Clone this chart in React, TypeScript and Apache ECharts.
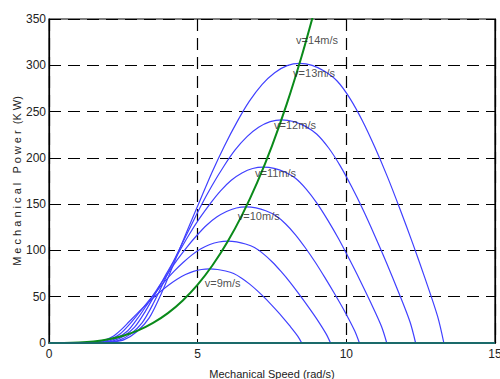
import React, { useEffect, useRef } from "react";
import * as echarts from "echarts";

// Mechanical speed (rad/s) and mechanical power (kW), per wind speed curve
const speedA = [1.08, 1.35, 1.62, 1.89, 2.16, 2.43, 2.70, 2.97, 3.24, 3.51, 3.78, 4.05, 4.32, 4.59, 4.86, 5.13, 5.40, 5.67, 5.94, 6.21, 6.48, 6.75, 7.02, 7.29, 7.56, 7.83, 8.10, 8.37, 8.50];
const powerA = [0, 0.24, 0.96, 3.2, 7.2, 14.4, 23.2, 32, 40.4, 48.8, 56.4, 63.2, 69.2, 74, 77.4, 79.4, 80, 79.4, 77.8, 75.0, 70.0, 63.6, 56.0, 47.6, 38.4, 28.8, 18.4, 7.2, 0];

const speedB = [1.20, 1.50, 1.80, 2.10, 2.40, 2.70, 3.01, 3.31, 3.61, 3.91, 4.21, 4.51, 4.81, 5.11, 5.41, 5.71, 6.01, 6.31, 6.61, 6.91, 7.21, 7.51, 7.81, 8.11, 8.41, 8.71, 9.02, 9.32, 9.47];
const powerB = [0, 0.33, 1.32, 4.4, 9.9, 19.8, 31.9, 44, 55.6, 67.1, 77.6, 86.9, 95.2, 101.8, 106.4, 109.1, 110, 109.2, 106.9, 103.1, 96.3, 87.5, 77, 65.5, 52.8, 39.6, 25.3, 9.9, 0];

const speedC = [1.33, 1.66, 1.99, 2.32, 2.65, 2.98, 3.32, 3.65, 3.98, 4.31, 4.64, 4.97, 5.30, 5.64, 5.97, 6.30, 6.63, 6.96, 7.29, 7.62, 7.96, 8.29, 8.62, 8.95, 9.28, 9.61, 9.95, 10.28, 10.44];
const powerC = [0, 0.44, 1.76, 5.9, 13.2, 26.5, 42.6, 58.8, 74.2, 89.7, 103.6, 116.1, 127.2, 136, 142.1, 145.8, 147, 146, 142.9, 137.7, 128.6, 116.9, 102.9, 87.5, 70.6, 52.9, 33.8, 13.2, 0];

const speedD = [1.44, 1.80, 2.16, 2.52, 2.88, 3.24, 3.61, 3.97, 4.33, 4.69, 5.05, 5.41, 5.77, 6.13, 6.49, 6.85, 7.21, 7.57, 7.93, 8.29, 8.65, 9.01, 9.37, 9.73, 10.09, 10.45, 10.82, 11.18, 11.36];
const powerD = [0, 0.57, 2.28, 7.6, 17.1, 34.2, 55.1, 76, 96, 115.9, 134, 150.1, 164.4, 175.8, 183.7, 188.5, 190, 188.7, 184.7, 178, 166.3, 151.1, 133, 113.1, 91.2, 68.4, 43.7, 18.1, 0];

const speedE = [1.57, 1.96, 2.35, 2.74, 3.13, 3.52, 3.92, 4.31, 4.70, 5.09, 5.48, 5.87, 6.26, 6.66, 7.05, 7.44, 7.83, 8.22, 8.61, 9.00, 9.40, 9.79, 10.18, 10.57, 10.96, 11.35, 11.75, 12.14, 12.33];
const powerE = [0, 0.72, 2.89, 9.6, 21.7, 43.4, 69.9, 96.4, 121.7, 147, 169.9, 190.4, 208.5, 222.9, 233, 239.1, 241, 239.3, 234.3, 225.8, 210.9, 191.6, 168.7, 143.4, 115.7, 86.8, 55.4, 22.9, 0];

const speedF = [1.69, 2.11, 2.53, 2.95, 3.37, 3.79, 4.22, 4.64, 5.06, 5.48, 5.90, 6.32, 6.74, 7.17, 7.59, 8.01, 8.43, 8.85, 9.27, 9.69, 10.12, 10.54, 10.96, 11.38, 11.80, 12.22, 12.65, 13.07, 13.28];
const powerF = [0, 0.91, 3.62, 12.1, 27.2, 54.4, 87.6, 120.8, 152.5, 184.2, 212.9, 238.6, 261.2, 279.4, 292, 299.6, 302, 299.9, 293.5, 283, 264.3, 240.1, 211.4, 179.7, 145, 108.7, 69.5, 28.7, 0];

// Optimal (maximum power point) curve
const optSpeed = [0, 0.5, 1, 1.5, 2, 2.5, 3, 3.5, 4, 4.5, 5, 5.5, 6, 6.5, 7, 7.5, 8, 8.5, 8.86];
const optPower = [0, 0.06, 0.51, 1.7, 4.04, 7.89, 13.6, 21.7, 32.3, 46.0, 63.1, 84.0, 109.1, 138.7, 173.2, 213.0, 258.6, 310.1, 351.2];

// Zero-power baseline
const baseSpeed = [0, 15];
const basePower = [0, 0];

// Curve labels and their anchor points (speed, power)
const labelTexts = ["v=14m/s", "v=13m/s", "v=12m/s", "v=11m/s", "v=10m/s", "v=9m/s"];
const labelSpeed = [8.31, 8.21, 7.57, 6.93, 6.35, 5.24];
const labelPower = [327.5, 292, 235.7, 184, 137, 65];

const xTicks = [0, 5, 10, 15];
const yTicks = [0, 50, 100, 150, 200, 250, 300, 350];

const zip = (xs: number[], ys: number[]) => xs.map((x, i) => [x, ys[i]]);

const FONT = "'Liberation Sans Narrow', 'Liberation Sans', Arial, sans-serif";

export default function App() {
  const ref = useRef<HTMLDivElement>(null);
  useEffect(() => {
    if (!ref.current) return;
    const chart = echarts.init(ref.current, undefined, { renderer: "svg" });
    const blueCurves = [
      zip(speedA, powerA),
      zip(speedB, powerB),
      zip(speedC, powerC),
      zip(speedD, powerD),
      zip(speedE, powerE),
      zip(speedF, powerF),
    ];
    const gridLine = { show: true, lineStyle: { color: "#000", type: [12, 7] as any, width: 1.2 } };
    chart.setOption({
      animation: false,
      backgroundColor: "#fff",
      grid: {
        left: 49,
        right: 5,
        top: 19,
        bottom: 36,
        show: true,
        borderColor: "#000",
        borderWidth: 1.2,
        backgroundColor: "transparent",
        containLabel: false,
        outerBoundsMode: "none",
      } as any,
      xAxis: [
        {
          type: "value",
          min: xTicks[0],
          max: xTicks[xTicks.length - 1],
          interval: 5,
          name: "Mechanical Speed (rad/s)",
          nameLocation: "middle",
          nameGap: 25,
          nameMoveOverlap: false,
          nameTextStyle: { fontFamily: FONT, fontSize: 11, color: "#222" },
          axisLine: { show: true, lineStyle: { color: "#000", width: 1.2 } },
          axisTick: { show: true, inside: true, length: 4, lineStyle: { color: "#000" } },
          axisLabel: { fontFamily: FONT, fontSize: 12, color: "#222", margin: 5 },
          splitLine: gridLine,
        } as any,
      ],
      yAxis: [
        {
          type: "value",
          min: yTicks[0],
          max: yTicks[yTicks.length - 1],
          interval: 50,
          name: "M e c h a n i c a l   P o w e r  (K W)",
          nameLocation: "middle",
          nameGap: 27,
          nameMoveOverlap: false,
          nameRotate: 90,
          nameTextStyle: { fontFamily: FONT, fontSize: 11, color: "#222" },
          axisLine: { show: true, lineStyle: { color: "#000", width: 1.2 } },
          axisTick: { show: true, inside: true, length: 4, lineStyle: { color: "#000" } },
          axisLabel: { fontFamily: FONT, fontSize: 12, color: "#222", margin: 3 },
          splitLine: gridLine,
        } as any,
        {
          type: "value",
          position: "right",
          min: yTicks[0],
          max: yTicks[yTicks.length - 1],
          interval: 50,
          axisLine: { show: true, lineStyle: { color: "#000", width: 1.2 } },
          axisTick: { show: true, inside: true, length: 4, lineStyle: { color: "#000" } },
          axisLabel: { show: false },
          splitLine: { show: false },
        },
      ],
      series: [
        ...blueCurves.map((d) => ({
          type: "line",
          data: d,
          showSymbol: false,
          smooth: 0.3,
          lineStyle: { color: "#4040ff", width: 1.2 },
          z: 3,
        })),
        {
          type: "line",
          data: zip(optSpeed, optPower),
          showSymbol: false,
          smooth: 0.3,
          lineStyle: { color: "#0a8a1a", width: 2 },
          z: 4,
        },
        {
          type: "line",
          data: zip(baseSpeed, basePower),
          showSymbol: false,
          lineStyle: { color: "#1a6a6a", width: 2.2 },
          z: 5,
        },
        {
          type: "scatter",
          data: labelTexts.map((t, i) => ({ value: [labelSpeed[i], labelPower[i]], name: t })),
          symbolSize: 0,
          z: 6,
          label: {
            show: true,
            position: "right",
            distance: 0,
            formatter: (p: any) => p.name,
            fontFamily: FONT,
            fontSize: 11,
            color: "#222",
          },
        },
      ],
    });
    return () => chart.dispose();
  }, []);
  return <div ref={ref} style={{ width: 500, height: 379, position: "absolute", left: 0, top: 0 }} />;
}
